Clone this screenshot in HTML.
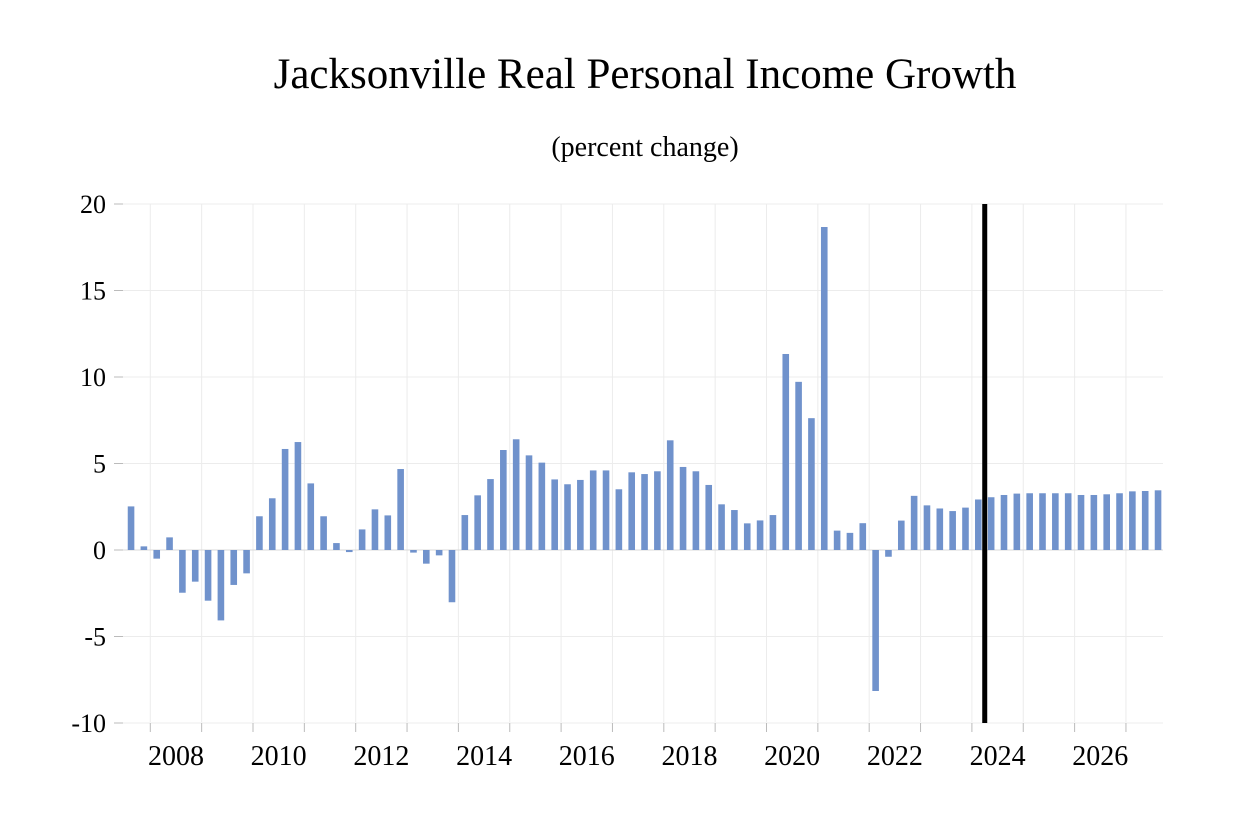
<!DOCTYPE html>
<html><head><meta charset="utf-8"><style>
html,body{margin:0;padding:0;background:#fff;}
svg text{font-family:"Liberation Serif",serif;fill:#000;}
</style></head><body>
<svg id="chart" width="1253" height="828">
<text x="645" y="88" text-anchor="middle" font-size="43">Jacksonville Real Personal Income Growth</text>
<text x="645" y="156" text-anchor="middle" font-size="28">(percent change)</text>
<g id="grid"></g><g id="bars"></g><g id="axes"></g>
</svg>
<script>
const startYear = 2007.5;
const values = [2.52,0.21,
-0.5,0.73,-2.47,-1.83,
-2.93,-4.07,-2.02,-1.35,
1.95,2.99,5.84,6.24,
3.85,1.95,0.40,-0.12,
1.19,2.35,2.0,4.68,
-0.15,-0.79,-0.31,-3.02,
2.02,3.16,4.10,5.78,
6.40,5.47,5.05,4.08,
3.80,4.05,4.60,4.60,
3.51,4.49,4.39,4.55,
6.34,4.80,4.55,3.76,
2.64,2.31,1.54,1.71,
2.02,11.33,9.72,7.62,
18.67,1.12,0.99,1.55,
-8.15,-0.39,1.70,3.13,
2.58,2.40,2.25,2.45,
2.92,3.05,3.18,3.26,
3.28,3.28,3.28,3.28,
3.18,3.18,3.22,3.28,
3.39,3.41,3.45];
const yTicks = [-10,-5,0,5,10,15,20];
const xLabels = [2008,2010,2012,2014,2016,2018,2020,2022,2024,2026];
const forecastStart = 2024.25;

const NS="http://www.w3.org/2000/svg";
const yearX0=150.3, yearW=51.35;
function xs(t){return yearX0+(t-2008)*yearW;}
function ys(v){return 550-v*17.3;}
function mk(tag,attrs,parent){const e=document.createElementNS(NS,tag);for(const k in attrs)e.setAttribute(k,attrs[k]);document.getElementById(parent).appendChild(e);return e;}

yTicks.forEach(v=>{
  const g=mk('line',{x1:123,x2:1163,y1:ys(v),y2:ys(v),stroke:'#ececec','stroke-width':1},'grid');
  
  
  const tk=mk('line',{x1:114,x2:123,y1:ys(v),y2:ys(v),stroke:'#bbb','stroke-width':1},'axes');
  
  
  const t=mk('text',{x:106,y:ys(v)+9,'text-anchor':'end','font-size':26},'axes');
  t.textContent=v;
  
  
});
for(let y=2008;y<=2027;y++){
  const g=mk('line',{x1:xs(y),x2:xs(y),y1:204,y2:722,stroke:'#ececec','stroke-width':1},'grid');
  
  
  const tk=mk('line',{x1:xs(y),x2:xs(y),y1:723,y2:732,stroke:'#bbb','stroke-width':1},'axes');
  
  
}
xLabels.forEach(y=>{
  const t=mk('text',{x:xs(y+0.5),y:765,'text-anchor':'middle','font-size':28},'axes');
  t.textContent=y;
  
  
});
const zl=mk('line',{x1:123,x2:1163,y1:ys(0),y2:ys(0),stroke:'#d8d8d8','stroke-width':1},'grid');


values.forEach((v,i)=>{
  const t=startYear+i*0.25+0.125;
  const y0=ys(0),y1=ys(v);
  const r=mk('rect',{x:xs(t)-3.3,width:6.6,y:Math.min(y0,y1),height:Math.max(0.8,Math.abs(y1-y0)),fill:'#7092cc'},'bars');
  
  
});
const fl=mk('line',{x1:xs(forecastStart),x2:xs(forecastStart),y1:204,y2:723,stroke:'#000','stroke-width':5},'axes');


</script>
</body></html>
